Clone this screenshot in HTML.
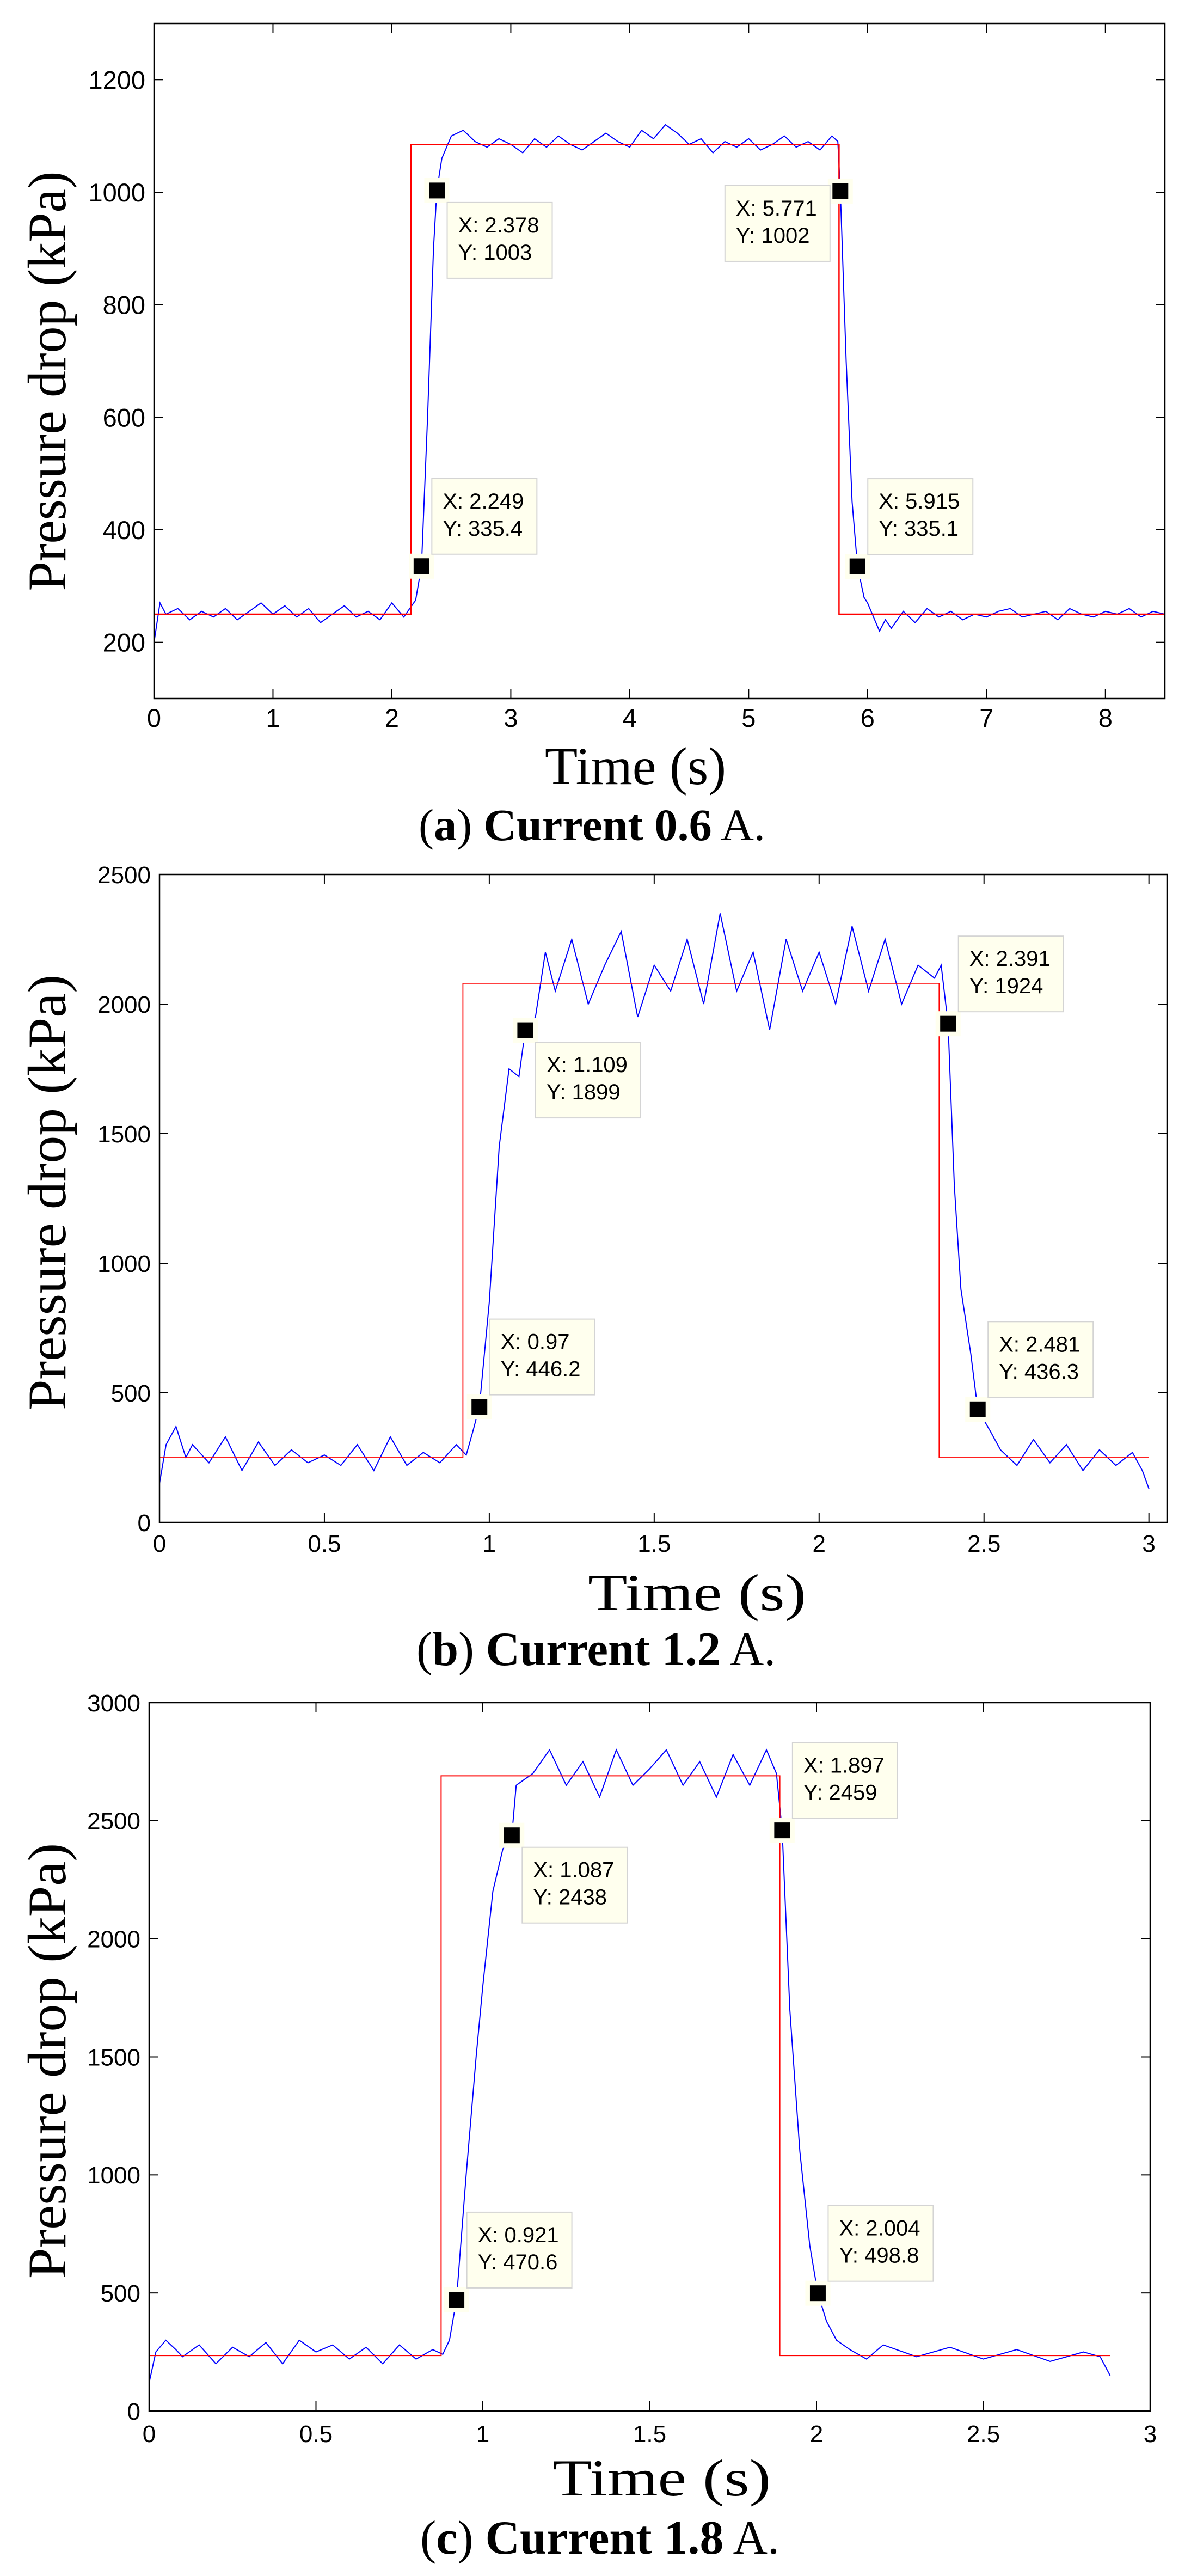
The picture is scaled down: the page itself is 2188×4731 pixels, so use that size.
<!DOCTYPE html>
<html><head><meta charset="utf-8"><title>Pressure drop response</title>
<style>
html,body{margin:0;padding:0;background:#fff;}
svg{display:block;}
</style></head>
<body>
<svg id="fig" xmlns="http://www.w3.org/2000/svg" width="2188" height="4731" viewBox="0 0 2188 4731">
<rect x="0" y="0" width="2188" height="4731" fill="#ffffff"/>
</svg>
<script>
// ---------- Panel A (Current 0.6 A) ----------
const aTimes = [0,0.05,0.1,0.2,0.3,0.4,0.5,0.6,0.7,0.8,0.9,1.0,1.1,1.2,1.3,1.4,1.5,1.6,1.7,1.8,1.9,2.0,2.1,2.2,2.249,2.3,2.35,2.378,2.42,2.5,2.6,2.7,2.8,2.9,3.0,3.1,3.2,3.3,3.4,3.5,3.6,3.7,3.8,3.9,4.0,4.1,4.2,4.3,4.4,4.5,4.6,4.7,4.8,4.9,5.0,5.1,5.2,5.3,5.4,5.5,5.6,5.7,5.75,5.771,5.82,5.87,5.915,5.97,6.0,6.05,6.1,6.15,6.2,6.3,6.4,6.5,6.6,6.7,6.8,6.9,7.0,7.1,7.2,7.3,7.4,7.5,7.6,7.7,7.8,7.9,8.0,8.1,8.2,8.3,8.4,8.5];
const aValues = [200,270,250,260,240,255,245,260,240,255,270,250,265,245,260,235,250,265,245,255,240,270,245,275,335.4,600,900,1003,1060,1100,1110,1090,1080,1095,1085,1070,1095,1080,1100,1085,1075,1090,1105,1090,1080,1110,1095,1120,1105,1085,1095,1070,1090,1080,1095,1075,1085,1100,1080,1090,1075,1100,1090,1002,700,450,335.1,280,270,245,220,240,225,255,235,260,245,255,240,250,245,255,260,245,250,255,240,260,250,245,255,250,260,245,255,250];
const aRefTimes = [0,2.16,2.16,5.76,5.76,8.5];
const aRefValues = [250,250,1085,1085,250,250];
const aXTicks = [0,1,2,3,4,5,6,7,8];
const aXTickLabels = ["0","1","2","3","4","5","6","7","8"];
const aYTicks = [200,400,600,800,1000,1200];
const aYTickLabels = ["200","400","600","800","1000","1200"];
const aTipX = [2.378,2.249,5.771,5.915];
const aTipY = [1003,335.4,1002,335.1];
const aTipXText = ["2.378","2.249","5.771","5.915"];
const aTipYText = ["1003","335.4","1002","335.1"];
const aTipSide = ["dr","ur","dl","ur"];

// ---------- Panel B (Current 1.2 A) ----------
const bTimes = [0,0.02,0.05,0.08,0.1,0.15,0.2,0.25,0.3,0.35,0.4,0.45,0.5,0.55,0.6,0.65,0.7,0.75,0.8,0.85,0.9,0.93,0.95,0.97,1.0,1.03,1.06,1.09,1.109,1.14,1.17,1.2,1.25,1.3,1.35,1.4,1.45,1.5,1.55,1.6,1.65,1.7,1.75,1.8,1.85,1.9,1.95,2.0,2.05,2.1,2.15,2.2,2.25,2.3,2.35,2.37,2.391,2.41,2.43,2.46,2.481,2.52,2.55,2.6,2.65,2.7,2.75,2.8,2.85,2.9,2.95,2.98,3.0];
const bValues = [150,300,370,250,300,230,330,200,310,220,280,230,260,220,300,200,330,220,270,230,300,260,350,446.2,850,1450,1750,1720,1899,1950,2200,2050,2250,2000,2150,2280,1950,2150,2050,2250,2000,2350,2050,2200,1900,2250,2050,2200,2000,2300,2050,2250,2000,2150,2100,2150,1924,1300,900,650,436.3,350,280,220,320,230,300,200,280,220,270,200,130];
const bRefTimes = [0,0.92,0.92,2.364,2.364,3.0];
const bRefValues = [250,250,2080,2080,250,250];
const bXTicks = [0,0.5,1,1.5,2,2.5,3];
const bXTickLabels = ["0","0.5","1","1.5","2","2.5","3"];
const bYTicks = [0,500,1000,1500,2000,2500];
const bYTickLabels = ["0","500","1000","1500","2000","2500"];
const bTipX = [1.109,0.97,2.391,2.481];
const bTipY = [1899,446.2,1924,436.3];
const bTipXText = ["1.109","0.97","2.391","2.481"];
const bTipYText = ["1899","446.2","1924","436.3"];
const bTipSide = ["dr","ur","ur","ur"];

// ---------- Panel C (Current 1.8 A) ----------
const cTimes = [0,0.02,0.05,0.08,0.1,0.15,0.2,0.25,0.3,0.35,0.4,0.45,0.5,0.55,0.6,0.65,0.7,0.75,0.8,0.85,0.88,0.9,0.921,0.95,0.98,1.0,1.03,1.06,1.087,1.1,1.15,1.2,1.25,1.3,1.35,1.4,1.45,1.5,1.55,1.6,1.65,1.7,1.75,1.8,1.85,1.88,1.897,1.92,1.95,1.98,2.004,2.03,2.06,2.1,2.15,2.2,2.3,2.4,2.5,2.6,2.7,2.8,2.85,2.88];
const cValues = [120,250,300,260,230,280,200,270,230,290,200,300,250,280,220,270,200,280,220,260,240,300,470.6,1000,1500,1800,2200,2380,2438,2650,2700,2800,2650,2750,2600,2800,2650,2720,2800,2650,2750,2600,2780,2650,2800,2700,2459,1700,1100,700,498.8,380,300,260,220,280,230,270,220,260,210,250,230,150];
const cRefTimes = [0,0.875,0.875,1.89,1.89,2.88];
const cRefValues = [235,235,2690,2690,235,235];
const cXTicks = [0,0.5,1,1.5,2,2.5,3];
const cXTickLabels = ["0","0.5","1","1.5","2","2.5","3"];
const cYTicks = [0,500,1000,1500,2000,2500,3000];
const cYTickLabels = ["0","500","1000","1500","2000","2500","3000"];
const cTipX = [1.087,0.921,1.897,2.004];
const cTipY = [2438,470.6,2459,498.8];
const cTipXText = ["1.087","0.921","1.897","2.004"];
const cTipYText = ["2438","470.6","2459","498.8"];
const cTipSide = ["dr","ur","ur","ur"];

const NS = "http://www.w3.org/2000/svg";
const svg = document.getElementById('fig');
const SERIF = "'Liberation Serif', 'Times New Roman', serif";
const SANS = "'Liberation Sans', Arial, sans-serif";
function mk(tag, attrs, parent){
  const e = document.createElementNS(NS, tag);
  for (const k in attrs) e.setAttribute(k, attrs[k]);
  (parent||svg).appendChild(e);
  return e;
}

function drawPanel(cfg){
  const g = mk('g', {});
  
  
  const sx = v => cfg.L + (v - cfg.xmin) / (cfg.xmax - cfg.xmin) * (cfg.R - cfg.L);
  const sy = v => cfg.B - (v - cfg.ymin) / (cfg.ymax - cfg.ymin) * (cfg.B - cfg.T);

  const cid = cfg.name + '-clip';
  const cp = mk('clipPath', {id: cid}, g);
  mk('rect', {x: cfg.L, y: cfg.T, width: cfg.R - cfg.L, height: cfg.B - cfg.T}, cp);

  let d = '';
  cfg.times.forEach((t, i) => { d += (i ? 'L' : 'M') + sx(t).toFixed(1) + ',' + sy(cfg.values[i]).toFixed(1); });
  const blue = mk('path', {d: d, fill: 'none', stroke: '#0000ff', 'stroke-width': 2, 'clip-path': 'url(#' + cid + ')'}, g);
  
  

  let d2 = '';
  cfg.refTimes.forEach((t, i) => { d2 += (i ? 'L' : 'M') + sx(t).toFixed(1) + ',' + sy(cfg.refValues[i]).toFixed(1); });
  const red = mk('path', {d: d2, fill: 'none', stroke: '#ff0000', 'stroke-width': cfg.redW, 'clip-path': 'url(#' + cid + ')'}, g);
  
  

  const box = mk('rect', {x: cfg.L, y: cfg.T, width: cfg.R - cfg.L, height: cfg.B - cfg.T, fill: 'none', stroke: '#000', 'stroke-width': 2.5}, g);
  
  

  cfg.xTicks.forEach((v, i) => {
    const x = sx(v);
    const t1 = mk('line', {x1: x, y1: cfg.B, x2: x, y2: cfg.B - 18, stroke: '#000', 'stroke-width': 2}, g);
    
    
    const t2 = mk('line', {x1: x, y1: cfg.T, x2: x, y2: cfg.T + 18, stroke: '#000', 'stroke-width': 2}, g);
    
    
    const lb = mk('text', {x: x, y: cfg.B + cfg.xLabOff, 'text-anchor': 'middle', 'font-family': SANS, 'font-size': cfg.tickFont, fill: '#000'}, g);
    lb.textContent = cfg.xTickLabels[i];
    
    
  });
  cfg.yTicks.forEach((v, i) => {
    const y = sy(v);
    const t1 = mk('line', {x1: cfg.L, y1: y, x2: cfg.L + 16, y2: y, stroke: '#000', 'stroke-width': 2}, g);
    
    
    const t2 = mk('line', {x1: cfg.R, y1: y, x2: cfg.R - 16, y2: y, stroke: '#000', 'stroke-width': 2}, g);
    
    
    const lb = mk('text', {x: cfg.L - 16, y: y + cfg.tickFont * 0.36, 'text-anchor': 'end', 'font-family': SANS, 'font-size': cfg.tickFont, fill: '#000'}, g);
    lb.textContent = cfg.yTickLabels[i];
    
    
  });

  cfg.tipX.forEach((tx, i) => {
    const mx = sx(tx), my = sy(cfg.tipY[i]);
    const W = 193, H = 139;
    let bx, by;
    const side = cfg.tipSide[i];
    if (side === 'ur') { bx = mx + 19; by = my - 22 - H; }
    else if (side === 'dr') { bx = mx + 19; by = my + 22; }
    else { bx = mx - 19 - W; by = my - 10; }
    const tg = mk('g', {}, g);
    
    
    mk('rect', {x: mx - 23, y: my - 23, width: 46, height: 46, fill: '#ffffee'}, tg);
    const m = mk('rect', {x: mx - 14.5, y: my - 14.5, width: 29, height: 29, fill: '#000'}, tg);
    
    
    const r = mk('rect', {x: bx, y: by, width: W, height: H, fill: '#ffffee', stroke: '#d4d4d4', 'stroke-width': 2}, tg);
    
    
    const l1 = mk('text', {x: bx + 20, y: by + 55, 'font-family': SANS, 'font-size': 40, fill: '#000'}, tg);
    l1.textContent = 'X: ' + cfg.tipXText[i];
    
    
    const l2 = mk('text', {x: bx + 20, y: by + 105, 'font-family': SANS, 'font-size': 40, fill: '#000'}, tg);
    l2.textContent = 'Y: ' + cfg.tipYText[i];
    
    
  });

  const xt = mk('text', {x: cfg.xtX, y: cfg.xtY, 'font-family': SERIF, 'font-size': cfg.xtFont, textLength: cfg.xtLen, lengthAdjust: 'spacingAndGlyphs', fill: '#000'}, g);
  xt.textContent = 'Time (s)';
  
  

  const yt = mk('text', {x: 0, y: 0, transform: 'translate(120,' + cfg.ytC + ') rotate(-90)', 'text-anchor': 'middle', 'font-family': SERIF, 'font-size': 100, textLength: cfg.ytLen, lengthAdjust: 'spacingAndGlyphs', fill: '#000'}, g);
  yt.textContent = 'Pressure drop (kPa)';
  
  

  const cap = mk('text', {x: cfg.capX, y: cfg.capY, 'font-family': SERIF, 'font-size': cfg.capFont, textLength: cfg.capLen, lengthAdjust: 'spacingAndGlyphs', fill: '#000'}, g);
  
  
  const s1 = mk('tspan', {}, cap); s1.textContent = '(';
  const s2 = mk('tspan', {'font-weight': 'bold'}, cap); s2.textContent = cfg.letter;
  const s3 = mk('tspan', {}, cap); s3.textContent = ') ';
  const s4 = mk('tspan', {'font-weight': 'bold'}, cap); s4.textContent = 'Current ' + cfg.current;
  const s5 = mk('tspan', {}, cap); s5.textContent = ' A.';
}

drawPanel({name: 'panel-a-chart', L: 283, R: 2140, T: 43, B: 1283, xmin: 0, xmax: 8.5, ymin: 100, ymax: 1300,
  times: aTimes, values: aValues, refTimes: aRefTimes, refValues: aRefValues, redW: 2.5,
  xTicks: aXTicks, xTickLabels: aXTickLabels, yTicks: aYTicks, yTickLabels: aYTickLabels,
  tipX: aTipX, tipY: aTipY, tipXText: aTipXText, tipYText: aTipYText, tipSide: aTipSide,
  tickFont: 47, xLabOff: 52, xtX: 1001, xtY: 1440, xtFont: 98, xtLen: 333, ytC: 700, ytLen: 771,
  capX: 769, capY: 1543, capFont: 83, capLen: 637, letter: 'a', current: '0.6'});

drawPanel({name: 'panel-b-chart', L: 293, R: 2144, T: 1606, B: 2796, xmin: 0, xmax: 3.055, ymin: 0, ymax: 2500,
  times: bTimes, values: bValues, refTimes: bRefTimes, refValues: bRefValues, redW: 1.8,
  xTicks: bXTicks, xTickLabels: bXTickLabels, yTicks: bYTicks, yTickLabels: bYTickLabels,
  tipX: bTipX, tipY: bTipY, tipXText: bTipXText, tipYText: bTipYText, tipSide: bTipSide,
  tickFont: 44, xLabOff: 54, xtX: 1080, xtY: 2957, xtFont: 95, xtLen: 401, ytC: 2190, ytLen: 800,
  capX: 765, capY: 3058, capFont: 88, capLen: 660, letter: 'b', current: '1.2'});

drawPanel({name: 'panel-c-chart', L: 274, R: 2113, T: 3127, B: 4428, xmin: 0, xmax: 3, ymin: 0, ymax: 3000,
  times: cTimes, values: cValues, refTimes: cRefTimes, refValues: cRefValues, redW: 2,
  xTicks: cXTicks, xTickLabels: cXTickLabels, yTicks: cYTicks, yTickLabels: cYTickLabels,
  tipX: cTipX, tipY: cTipY, tipXText: cTipXText, tipYText: cTipYText, tipSide: cTipSide,
  tickFont: 44, xLabOff: 57, xtX: 1015, xtY: 4583, xtFont: 95, xtLen: 401, ytC: 3785, ytLen: 800,
  capX: 772, capY: 4690, capFont: 88, capLen: 660, letter: 'c', current: '1.8'});
</script>
</body></html>
